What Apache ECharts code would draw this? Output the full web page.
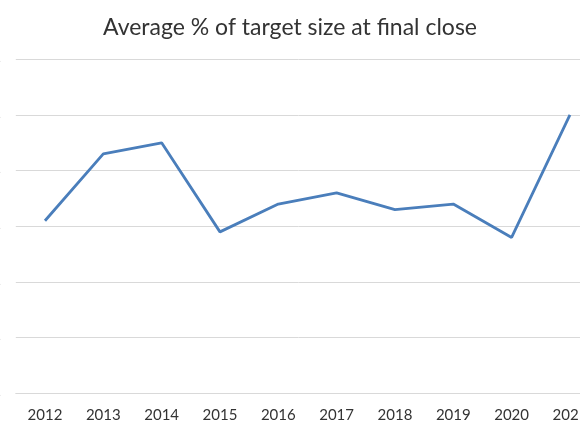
<!DOCTYPE html>
<html>
<head>
<meta charset="utf-8">
<title>Average % of target size at final close</title>
<script src="https://cdn.jsdelivr.net/npm/echarts@6/dist/echarts.min.js"></script>
<style>
    html, body { margin: 0; padding: 0; background: #fff; }
    #chart { width: 580px; height: 435px; }
</style>
</head>
<body>
<div id="chart"></div>
<script>
// 数据
const years = ['2012', '2013', '2014', '2015', '2016', '2017', '2018', '2019', '2020', '2021'];
const avgPctOfTarget = [111, 123, 125, 109, 114, 116, 113, 114, 108, 130];
const yMin = 80;
const yMax = 140;
const yStep = 10;

const chart = echarts.init(document.getElementById('chart'));

chart.setOption({
    animation: false,
    title: {
        text: 'Average % of target size at final close',
        left: 'center',
        top: 11,
        textStyle: {
            fontFamily: 'Lato',
            fontSize: 23,
            fontWeight: 'normal',
            color: '#333333'
        }
    },
    // 图表被裁剪：左侧刻度和 2021 标签在画面外
    grid: {
        left: 15.8,
        right: -19.1,
        top: 59.3,
        bottom: 41.7,
        containLabel: false,
        outerBoundsMode: 'none'
    },
    xAxis: {
        type: 'category',
        data: years,
        boundaryGap: true,
        axisLine: { lineStyle: { color: '#d9d9d9', width: 1 } },
        axisTick: { show: false },
        axisLabel: {
            margin: 14,
            fontFamily: 'Lato',
            fontSize: 15,
            color: '#333333'
        }
    },
    yAxis: {
        type: 'value',
        min: yMin,
        max: yMax,
        interval: yStep,
        axisLine: { show: false },
        axisTick: { show: false },
        axisLabel: {
            margin: 15,
            formatter: '{value}%',
            fontFamily: 'Lato',
            fontSize: 15,
            color: '#333333'
        },
        splitLine: { lineStyle: { color: '#d9d9d9', width: 1 } }
    },
    series: [{
        type: 'line',
        data: avgPctOfTarget,
        symbol: 'none',
        lineStyle: { color: '#4a7ebb', width: 2.8 }
    }]
});
</script>
</body>
</html>
